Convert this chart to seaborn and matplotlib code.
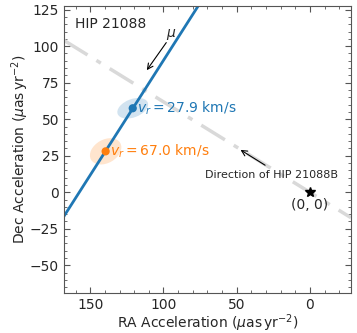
import numpy as np
import pandas as pd
import seaborn as sns
import matplotlib.pyplot as plt
from matplotlib.patches import Ellipse
from matplotlib.ticker import MultipleLocator

# line along proper-motion direction (RA, Dec acceleration)
mu_ra = [168.0, 76.0]
mu_dec = [-16.5, 128.0]

# direction of the companion (through the origin)
comp_ra = [168.0, -28.0]
comp_dec = [104.0, -17.4]

# solutions for the two radial velocities
vr_labels = ['27.9', '67.0']
vr_ra = [121.0, 139.5]
vr_dec = [57.5, 28.0]
vr_colors = ['#1f77b4', '#ff7f0e']
# error ellipses: full width, full height (data units), angle
ell_w = [22.0, 23.0]
ell_h = [12.5, 16.0]
ell_ang = [159.0, 150.0]

sns.set_style('ticks')
plt.rcParams['font.family'] = ['DejaVu Sans']
plt.rcParams['mathtext.fontset'] = 'dejavusans'

fig = plt.figure(figsize=(3.57, 3.33), dpi=100)
ax = fig.add_axes([0.179, 0.12, 0.804, 0.862])

sns.lineplot(x=comp_ra, y=comp_dec, ax=ax, color='#d9d9d9', lw=2.5,
             linestyle=(0, (8, 3, 1.5, 3)), sort=False)
sns.lineplot(x=mu_ra, y=mu_dec, ax=ax, color='#1f77b4', lw=2, sort=False)

for i in range(2):
    ax.add_patch(Ellipse((vr_ra[i], vr_dec[i]), ell_w[i], ell_h[i], angle=ell_ang[i],
                         color=vr_colors[i], alpha=0.2, lw=0))
df = pd.DataFrame({'ra': vr_ra, 'dec': vr_dec, 'lab': vr_labels})
sns.scatterplot(data=df, x='ra', y='dec', hue='lab', palette=vr_colors, s=35,
                edgecolor='none', legend=False, ax=ax, zorder=5)
for i in range(2):
    ax.text(vr_ra[i] - 3, vr_dec[i], r'$v_r = $' + vr_labels[i] + ' km/s',
            color=vr_colors[i], fontsize=10, va='center', ha='left')

ax.plot(0, 0, marker='*', color='k', ms=7, zorder=6)
ax.text(0, -9, '(0, 0)', fontsize=10, ha='center', va='center')
ax.text(136, 115, 'HIP 21088', fontsize=10, ha='center', va='center')

ax.annotate('', xy=(112.5, 82), xytext=(97, 104),
            arrowprops=dict(arrowstyle='->', color='k', lw=0.8))
ax.text(95, 108, r'$\mu$', fontsize=10, ha='center', va='center')
ax.annotate('', xy=(49, 30), xytext=(29, 17.5),
            arrowprops=dict(arrowstyle='->', color='k', lw=0.8))
ax.text(26, 12, 'Direction of HIP 21088B', fontsize=8, ha='center', va='center')

ax.set_xlim(168, -28)
ax.set_ylim(-69, 127.5)
ax.xaxis.set_major_locator(MultipleLocator(50))
ax.xaxis.set_minor_locator(MultipleLocator(10))
ax.yaxis.set_major_locator(MultipleLocator(25))
ax.yaxis.set_minor_locator(MultipleLocator(5))
ax.tick_params(which='both', direction='in', top=True, right=True, color='#555555')
ax.tick_params(which='major', length=4, labelsize=10)
ax.tick_params(which='minor', length=2)
for s in ax.spines.values():
    s.set_color('#555555')
    s.set_visible(True)

ax.set_xlabel(r'RA Acceleration ($\mu\mathrm{as\,yr}^{-2}$)', fontsize=10, labelpad=0)
ax.set_ylabel(r'Dec Acceleration ($\mu\mathrm{as\,yr}^{-2}$)', fontsize=10, labelpad=-1)

fig.savefig('out.png', dpi=100)
